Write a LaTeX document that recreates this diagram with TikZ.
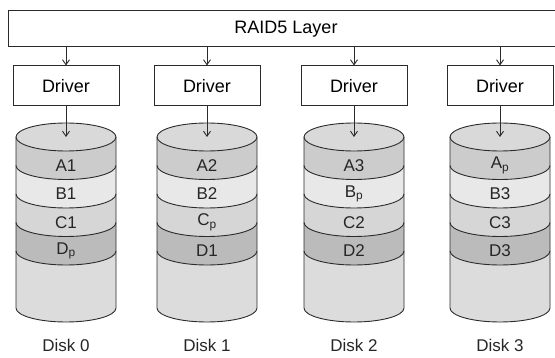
\documentclass[tikz,border=0pt]{standalone}
\usepackage{fontspec}
\setmainfont{Liberation Sans}
\usetikzlibrary{arrows.meta,positioning}

\definecolor{lineg}{HTML}{2B2B2B}
\definecolor{topg}{HTML}{D9D9D9}
\definecolor{bandA}{HTML}{CCCCCC}
\definecolor{bandB}{HTML}{E8E8E8}
\definecolor{bandC}{HTML}{D6D6D6}
\definecolor{bandD}{HTML}{BBBBBB}
\definecolor{bottomg}{HTML}{DCDCDC}

\tikzset{
  layerbox/.style={draw=lineg, line width=1pt, minimum height=36pt, inner sep=0pt,
                   font=\fontsize{18}{20}\selectfont},
  drvbox/.style={draw=lineg, line width=1pt, minimum width=106pt, minimum height=40pt,
                 inner sep=0pt, font=\fontsize{18}{20}\selectfont},
  bandtxt/.style={inner sep=0pt, text=black!85, font=\fontsize{17}{19}\selectfont},
  disktxt/.style={inner sep=0pt, text=black!85, font=\fontsize{17}{19}\selectfont},
  cylline/.style={draw=lineg, line width=0.9pt},
  arr/.style={draw=lineg, line width=0.9pt, -{Straight Barb[length=5pt,width=7pt]}}
}

\begin{document}
\begin{tikzpicture}[x=1pt,y=-1pt]
  \useasboundingbox (0,0) rectangle (555,358);

  % RAID layer box, its right side runs off the page
  \node[layerbox, minimum width=556pt] (raid) at (286,29) {RAID5 Layer};

  \foreach \i/\cx/\la/\lb/\lc/\ld in {0/66/A1/B1/C1/D\textsubscript{p},
                                      1/207/A2/B2/C\textsubscript{p}/D1,
                                      2/354/A3/B\textsubscript{p}/C2/D2,
                                      3/500/A\textsubscript{p}/B3/C3/D3}{
    % driver
    \node[drvbox] (drv\i) at (\cx,86) {Driver};
    \draw[arr] (raid.south -| drv\i.north) -- (drv\i.north);

    % disk cylinder
    \fill[topg] (\cx,137) ellipse (50 and 14);
    \fill[bandA] (\cx-50,137) arc(180:0:50 and 14) -- (\cx+50,165.5) arc(0:180:50 and 14) -- cycle;
    \fill[bandB] (\cx-50,165.5) arc(180:0:50 and 14) -- (\cx+50,194) arc(0:180:50 and 14) -- cycle;
    \fill[bandC] (\cx-50,194) arc(180:0:50 and 14) -- (\cx+50,222.5) arc(0:180:50 and 14) -- cycle;
    \fill[bandD] (\cx-50,222.5) arc(180:0:50 and 14) -- (\cx+50,251) arc(0:180:50 and 14) -- cycle;
    \fill[bottomg] (\cx-50,251) arc(180:0:50 and 14) -- (\cx+50,308) arc(0:180:50 and 14) -- cycle;

    \draw[cylline] (\cx,137) ellipse (50 and 14);
    \draw[cylline] (\cx-50,137) -- (\cx-50,308) arc(180:0:50 and 14) -- (\cx+50,137);
    \foreach \yy in {165.5,194,222.5,251}
      \draw[cylline] (\cx-50,\yy) arc(180:0:50 and 14);
    \coordinate (top\i) at (\cx,137);
    \draw[arr] (drv\i.south) -- (top\i);

    % stripes and disk name
    \node[bandtxt] (a\i) at (\cx,165.25) {\la};
    \node[bandtxt] (b\i) at (\cx,193.75) {\lb};
    \node[bandtxt] (c\i) at (\cx,222.25) {\lc};
    \node[bandtxt] (d\i) at (\cx,250.75) {\ld};
    \node[disktxt] (disk\i) at (\cx,345) {Disk \i};
  }
\end{tikzpicture}
\end{document}
